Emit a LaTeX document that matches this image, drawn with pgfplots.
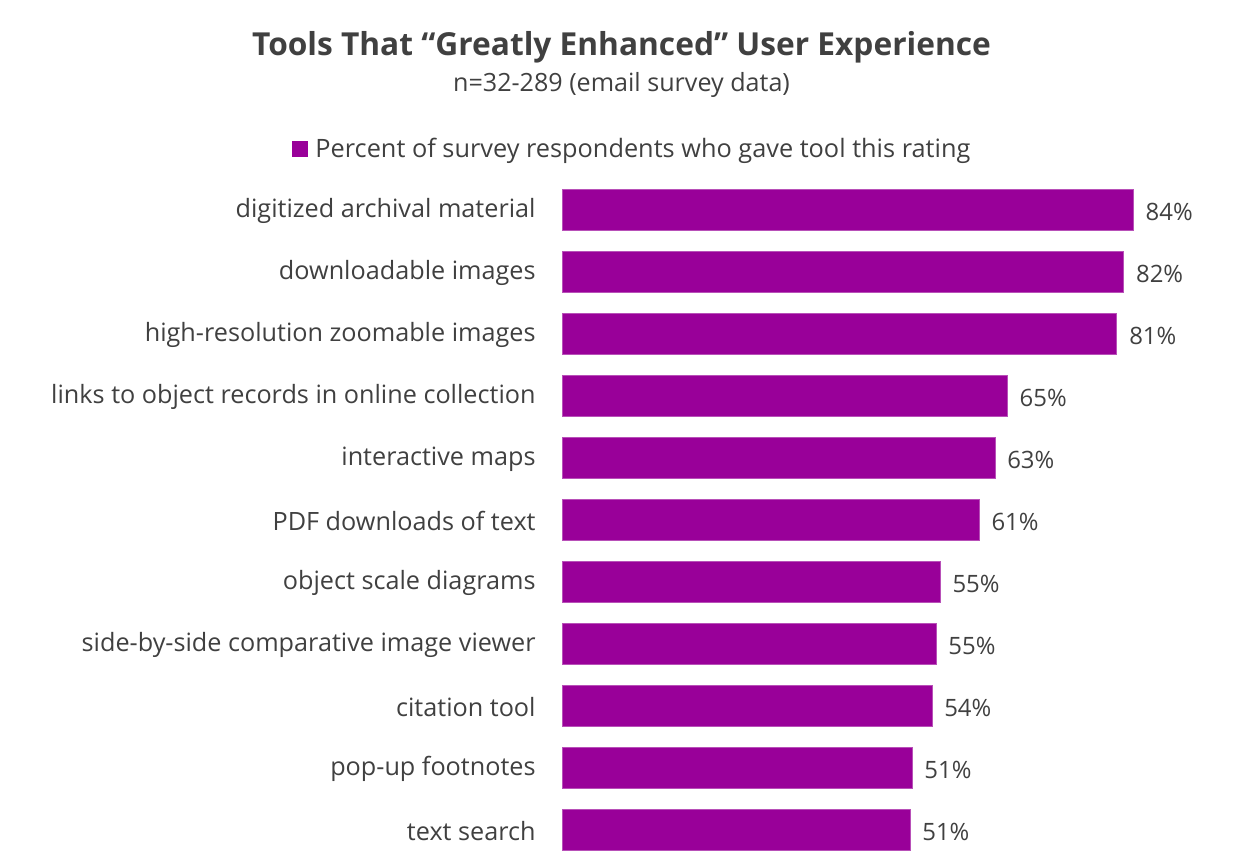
\documentclass[border=0pt]{standalone}
\usepackage{fontspec}
\setmainfont{Open Sans}
\usepackage{pgfplots}
\usepackage{pgfplotstable}
\pgfplotsset{compat=1.18}
\definecolor{barc}{HTML}{990099}
\definecolor{baredge}{HTML}{B850B8}
\definecolor{txt}{HTML}{404040}
\pgfplotstableread[col sep=comma]{
idx,val,lab
0,83.4,84
1,82.0,82
2,81.0,81
3,65.0,65
4,63.2,63
5,60.9,61
6,55.2,55
7,54.6,55
8,54.0,54
9,51.1,51
10,50.8,51
}\datatab
\begin{document}
\begin{tikzpicture}
\path[use as bounding box] (0bp,0bp) rectangle (621.5bp,432bp);
\node[font=\bfseries\fontsize{15.9}{18}\selectfont, text=txt] at (310.75bp,408.5bp) {Tools That “Greatly Enhanced” User Experience};
\node[font=\fontsize{12.6}{14}\selectfont, text=txt] at (310.75bp,389.5bp) {n=32-289 (email survey data)};
\begin{axis}[
  at={(281bp,342.5bp)}, anchor=north west,
  scale only axis, width=308.25bp, height=341bp,
  xmin=0, xmax=90, ymin=-0.5, ymax=10.5, y dir=reverse,
  axis line style={draw=none},
  xtick=\empty,
  ytick={0,...,10},
  yticklabels={digitized archival material, downloadable images, high-resolution zoomable images, links to object records in online collection, interactive maps, PDF downloads of text, object scale diagrams, side-by-side comparative image viewer, citation tool, pop-up footnotes, text search},
  major tick length=0pt,
  yticklabel style={font=\fontsize{12.65}{14}\selectfont, text=txt, inner sep=0pt, xshift=-13bp, yshift=-0.5bp},
  xbar, bar width=20.5bp,
  nodes near coords={\pgfplotspointmeta\%},
  nodes near coords style={font=\fontsize{12}{14}\selectfont, text=txt, anchor=west, inner sep=0pt, xshift=6bp, yshift=-1bp},
  point meta=explicit symbolic,
  legend style={draw=none, fill=none, at={(0.112,1.044)}, anchor=center, font=\fontsize{12.7}{14}\selectfont, text=txt, inner sep=0pt,
    nodes={inner sep=0pt, xshift=0bp}},
  legend image code/.code={\fill[barc] (-2bp,-3.7bp) rectangle (5.5bp,3.7bp);},
]
\addplot[fill=barc, draw=baredge, line width=0.4pt] table[x=val, y=idx, meta=lab] {\datatab};
\addlegendentry{\hspace{4bp}Percent of survey respondents who gave tool this rating}
\end{axis}
\end{tikzpicture}
\end{document}
